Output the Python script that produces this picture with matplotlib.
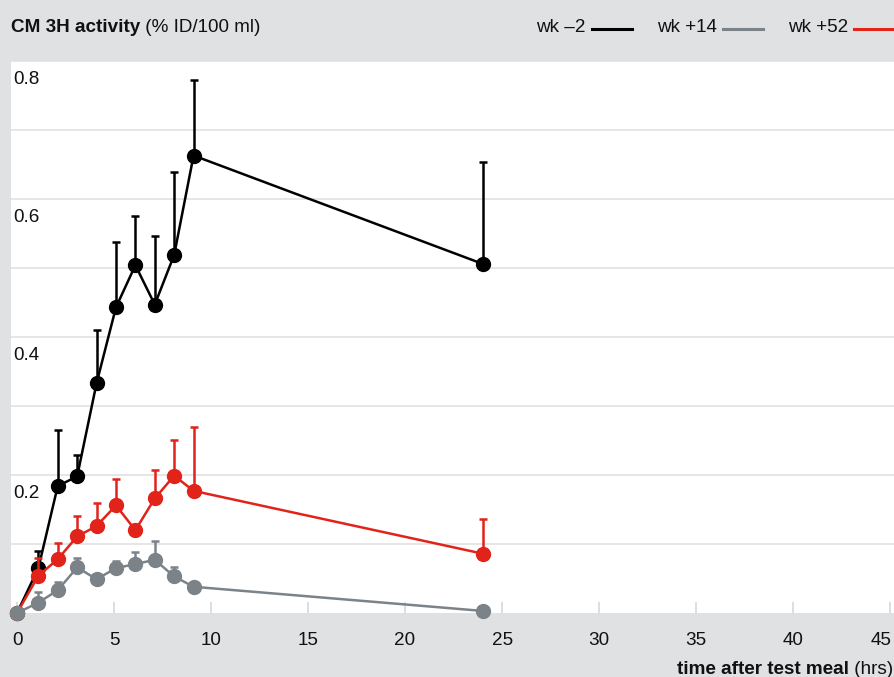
import matplotlib
matplotlib.use("Agg")
import matplotlib.pyplot as plt
from matplotlib.lines import Line2D
from matplotlib import transforms

plt.rcParams["font.family"] = ["Liberation Sans", "DejaVu Sans"]
FS = 13.6
plt.rcParams["font.size"] = FS

# hours after the test meal
hours = [0, 1.1, 2.1, 3.1, 4.1, 5.1, 6.1, 7.1, 8.1, 9.1, 24]

wk_minus2 = [0, 0.065, 0.184, 0.198, 0.333, 0.443, 0.504, 0.447, 0.519, 0.663, 0.506]
wk_minus2_err = [0, 0.025, 0.081, 0.031, 0.077, 0.095, 0.072, 0.099, 0.120, 0.109, 0.148]

wk_plus52 = [0, 0.054, 0.078, 0.111, 0.126, 0.156, 0.120, 0.166, 0.199, 0.177, 0.086]
wk_plus52_err = [0, 0.026, 0.024, 0.030, 0.034, 0.038, 0, 0.041, 0.052, 0.092, 0.050]

wk_plus14 = [0, 0.015, 0.033, 0.066, 0.049, 0.065, 0.071, 0.077, 0.053, 0.038, 0.003]
wk_plus14_err = [0, 0.016, 0.012, 0.014, 0, 0.011, 0.018, 0.027, 0.013, 0, 0]

x_ticks = [0, 5, 10, 15, 20, 25, 30, 35, 40, 45]
y_grid = [0.1, 0.2, 0.3, 0.4, 0.5, 0.6, 0.7, 0.8]
y_labels = [0.2, 0.4, 0.6, 0.8]

BG = "#e0e1e3"
GRID = "#e4e4e4"
TXT = "#111111"
BLACK = "#000000"
GREY = "#7b8389"
RED = "#e2231a"

W, H = 894, 677
fig = plt.figure(figsize=(W / 100, H / 100), dpi=100, facecolor=BG)
ax = fig.add_axes([11 / W, 64 / H, 883 / W, 552 / H])
ax.set_facecolor("white")
for s in ax.spines.values():
    s.set_visible(False)

ax.set_xlim(-0.31, 45.2)
ax.set_ylim(0, 0.8)

for yv in y_grid:
    ax.axhline(yv, color=GRID, lw=1.3, zorder=0)

ax.set_yticks([])
ax.set_xticks(x_ticks)
ax.set_xticklabels([str(t) for t in x_ticks])
ax.tick_params(axis="x", direction="in", length=8, width=1.2, color="#d8d8d8",
               pad=14, labelsize=FS, labelcolor=TXT)
# last label is pushed inside the figure edge
ax.get_xticklabels()[-1].set_horizontalalignment("right")
ax.get_xticklabels()[-1].set_transform(
    ax.get_xticklabels()[-1].get_transform()
    + transforms.ScaledTranslation(1 / 100, 0, fig.dpi_scale_trans))

# y labels sit inside the plot, just under their gridline
trans = transforms.blended_transform_factory(ax.transAxes, ax.transData)
trans = trans + transforms.ScaledTranslation(2 / 100, -10 / 100, fig.dpi_scale_trans)
for yv in y_labels:
    ax.text(0, yv, f"{yv:.1f}", transform=trans, ha="left", va="top",
            fontsize=FS, color=TXT)

series = [
    (wk_minus2, wk_minus2_err, BLACK),
    (wk_plus52, wk_plus52_err, RED),
    (wk_plus14, wk_plus14_err, GREY),
]
for z, (vals, err, col) in enumerate(series):
    lower = [0] * len(err)
    eb = ax.errorbar(hours, vals, yerr=[lower, err], color=col, lw=1.8,
                     marker="o", markersize=10, ecolor=col, elinewidth=1.8,
                     capsize=2.8, capthick=1.8, zorder=3 + z)
    eb.lines[0].set_clip_on(False)
    for artist in eb.lines[1] + eb.lines[2]:
        artist.set_clip_on(False)

renderer = fig.canvas.get_renderer()

# title: bold part + normal part
t1 = fig.text(11 / W, 1 - 27 / H, "CM 3H activity", fontweight="bold",
              ha="left", va="center", fontsize=FS, color=TXT)
bb = t1.get_window_extent(renderer)
fig.text(bb.x1 / W, 1 - 27 / H, " (% ID/100 ml)", ha="left", va="center",
         fontsize=FS, color=TXT)

# x axis label, right aligned
t2 = fig.text(893 / W, 1 - 670 / H, " (hrs)", ha="right", va="center",
              fontsize=FS, color=TXT)
bb2 = t2.get_window_extent(renderer)
fig.text(bb2.x0 / W, 1 - 670 / H, "time after test meal", fontweight="bold",
         ha="right", va="center", fontsize=FS, color=TXT)

# legend, built right to left: label then a short line sample
legend_items = [("wk \u20132", BLACK), ("wk +14", GREY), ("wk +52", RED)]
xr = W
for label, col in reversed(legend_items):
    fig.add_artist(Line2D([(xr - 40) / W, xr / W], [1 - 29 / H, 1 - 29 / H],
                          color=col, lw=2.2, transform=fig.transFigure))
    t = fig.text((xr - 46) / W, 1 - 27 / H, label, ha="right", va="center",
                 fontsize=FS, color=TXT)
    xr = t.get_window_extent(renderer).x0 - 25

fig.savefig("out.png", dpi=100, facecolor=BG)
